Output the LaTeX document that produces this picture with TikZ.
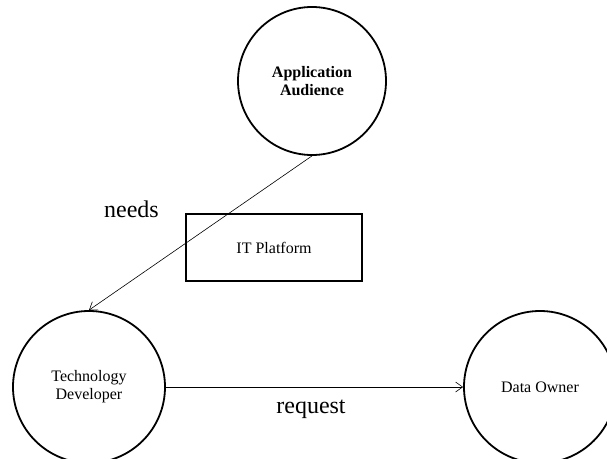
\documentclass[tikz,border=0pt]{standalone}
\usepackage{fontspec}
\setmainfont{Liberation Serif}
\usetikzlibrary{arrows.meta}
\begin{document}
\begin{tikzpicture}[x=1pt,y=-1pt,
  actor/.style={draw,circle,line width=1.8pt,minimum size=150pt,inner sep=0pt,align=center,font=\fontsize{16}{18}\selectfont},
  boxnode/.style={draw,line width=1.8pt,minimum width=176pt,minimum height=67pt,inner sep=0pt,font=\fontsize{16}{18}\selectfont},
  link/.style={line width=0.6pt,-{Straight Barb[length=7pt,width=10pt]}},
  lbl/.style={font=\fontsize{24}{26}\selectfont,inner sep=0pt,anchor=base}]
\useasboundingbox[fill=white] (0,0) rectangle (607,458);
\node[actor,minimum size=148pt,font=\fontsize{16}{18}\selectfont\bfseries] (aud) at (312,81) {Application\\Audience};
\node[actor,minimum size=152pt] (dev) at (89,387) {Technology\\Developer};
\node[actor,minimum size=152pt] (own) at (540,387) {Data Owner};
\node[boxnode] (it) at (274,247.5) {IT Platform};
\draw[link] (aud.south) -- (dev.north);
\draw[link] (dev.east) -- (own.west);
\node[lbl] (needs) at (131.5,217) {needs};
\node[lbl] (req) at (311,413) {request};
\end{tikzpicture}
\end{document}
